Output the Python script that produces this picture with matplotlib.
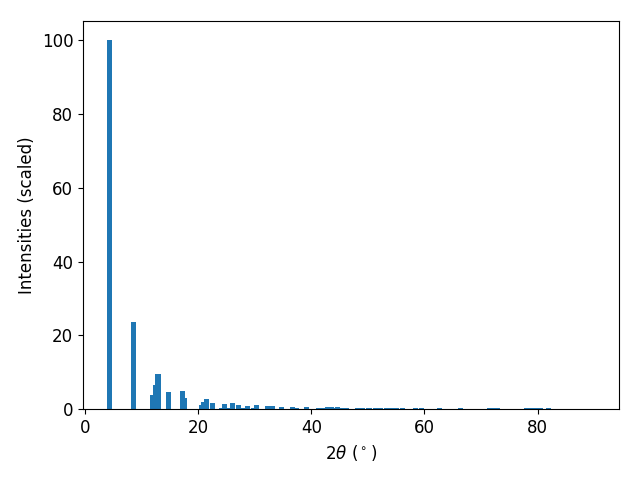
import matplotlib
matplotlib.use("Agg")
import matplotlib.pyplot as plt

two_theta = [4.28, 8.59, 12.0, 12.4, 12.9, 14.8, 17.2, 17.6, 20.6, 21.0, 21.5, 22.6,
             24.1, 24.6, 25.5, 26.0, 27.2, 27.9, 28.7, 29.8, 30.3, 32.3, 33.2, 34.8,
             36.7, 37.4, 39.2, 41.2, 42.0, 42.9, 43.6, 44.1, 44.6, 45.5, 46.3, 48.2,
             49.0, 50.2, 51.3, 52.2, 53.3, 54.2, 55.0, 56.1, 58.5, 59.5, 62.6, 66.4,
             71.5, 72.3, 72.9, 78.1, 79.0, 79.6, 80.6, 82.0]
intensity = [100, 23.6, 3.8, 6.5, 9.5, 4.6, 4.9, 3.0, 1.2, 1.9, 2.7, 1.6,
             0.3, 1.3, 0.3, 1.6, 1.1, 0.3, 0.8, 0.3, 1.1, 0.8, 0.8, 0.5,
             0.5, 0.3, 0.5, 0.3, 0.3, 0.5, 0.5, 0.3, 0.5, 0.3, 0.3, 0.3,
             0.3, 0.3, 0.3, 0.3, 0.3, 0.3, 0.3, 0.3, 0.3, 0.3, 0.3, 0.3,
             0.3, 0.3, 0.3, 0.3, 0.3, 0.3, 0.3, 0.3]

plt.rcParams['font.size'] = 12
fig = plt.figure(figsize=(6.4, 4.8), dpi=100)
ax = fig.add_axes([0.1297, 0.1473, 0.8375, 0.808])
ax.bar(two_theta, intensity, width=0.9, color='#1f77b4')
ax.set_xlim(-0.35, 94.4)
ax.set_ylim(0, 105)
ax.set_xlabel(r'$2\theta$ ($^\circ$)')
ax.set_ylabel('Intensities (scaled)')
fig.savefig('out.png', dpi=100)
